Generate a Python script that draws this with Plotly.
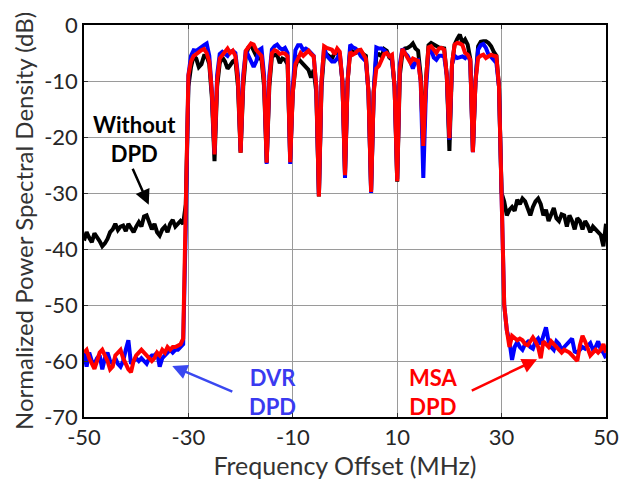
import numpy as np
import plotly.graph_objects as go

# Frequency grid (MHz), 0.5 MHz spacing
freq = np.arange(-50, 50.01, 0.5)

# ---- Without DPD (black) ----
black_left = [-38.5, -37.0, -38.0, -38.8, -37.2, -37.8, -38.6, -39.5, -39.0, -38.2,
              -37.0, -36.5, -35.5, -36.6, -36.0, -35.8, -36.8, -35.5, -36.4, -37.0,
              -36.0, -35.2, -36.0, -34.2, -34.0, -35.5, -36.5, -35.5, -37.0, -37.6,
              -36.5, -36.0, -37.0, -35.5, -34.8, -36.0, -35.5, -35.0, -35.5, -32.0]
black_band = [-11.0,
              -7.5, -5.5, -6.0, -7.5, -7.0, -5.5, -5.5, -7.0, -13.0, -24.3,
              -11.0, -6.8, -5.8, -6.5, -7.8, -7.2, -6.5, -6.2, -11.0, -22.8,
              -11.0, -5.5, -4.0, -3.6, -4.5, -5.5, -6.0, -6.0, -11.0, -24.6,
              -11.0, -5.6, -5.4, -5.3, -6.8, -6.0, -6.2, -7.0, -24.0,
              -12.0, -7.5, -6.0, -6.5, -7.0, -7.5, -8.0, -9.4, -8.0, -12.0, -30.6,
              -11.0, -5.0, -5.2, -5.5, -6.0, -5.0, -5.0, -5.5, -10.0, -26.5,
              -10.0, -4.5, -4.8, -5.0, -4.8, -4.6, -5.2, -5.5, -12.0, -29.5,
              -12.0, -5.5, -5.2, -5.6, -4.3, -4.6, -5.8, -6.2, -11.0, -28.0,
              -9.0, -5.0, -4.2, -4.1, -3.8, -3.3, -4.2, -4.6, -9.0, -22.0,
              -10.0, -3.6, -3.2, -3.5, -3.8, -4.0, -4.1, -4.2, -9.0, -22.5,
              -7.0, -3.5, -2.5, -1.7, -3.2, -2.6, -3.5, -6.0, -22.5,
              -10.0, -3.8, -3.0, -2.9, -2.9, -3.2, -3.8, -4.8, -5.5, -11.0,
              -30.0]
black_right = [-31.5, -34.0, -33.0, -32.5, -33.2, -31.2, -32.0, -31.0, -31.5, -32.8,
               -34.0, -32.5, -31.5, -31.0, -32.0, -34.0, -33.0, -35.0, -34.0, -32.7,
               -34.5, -35.0, -33.8, -34.0, -36.0, -34.0, -35.0, -36.5, -34.5, -35.0,
               -36.5, -35.0, -35.8, -37.0, -36.0, -36.5, -37.0, -37.5, -39.5, -35.5]

# ---- DVR DPD (blue) ----
blue_left = [-58.5, -61.0, -58.5, -60.0, -60.5, -59.5, -59.0, -61.5, -59.5, -58.5,
             -60.0, -60.5, -59.5, -60.5, -61.0, -60.0, -58.0, -56.3, -60.5, -60.0,
             -59.5, -60.0, -59.5, -60.0, -60.5, -59.5, -59.0, -59.0, -58.5, -61.0,
             -59.5, -59.0, -58.5, -58.0, -58.5, -58.0, -58.0, -57.5, -57.0, -36.0]
blue_band = [-9.0,
             -5.5, -4.5, -4.6, -4.2, -4.0, -3.6, -3.3, -5.5, -12.0, -23.0,
             -9.0, -5.2, -4.8, -5.2, -5.5, -4.8, -4.6, -5.0, -9.0, -22.5,
             -9.0, -4.5, -5.5, -6.5, -7.5, -6.5, -4.5, -4.2, -9.0, -24.8,
             -9.0, -4.4, -3.8, -3.5, -4.1, -4.4, -4.1, -5.0, -24.8,
             -11.0, -4.5, -3.6, -3.6, -4.5, -4.2, -4.5, -5.0, -5.5, -11.0, -30.5,
             -10.0, -4.0, -5.5, -6.0, -6.5, -6.5, -6.0, -5.0, -10.0, -27.3,
             -10.0, -3.5, -4.0, -4.2, -4.6, -5.5, -6.0, -6.5, -12.0, -30.0,
             -12.0, -4.0, -4.2, -4.2, -4.5, -5.0, -5.5, -6.0, -11.0, -27.5,
             -7.0, -4.2, -5.0, -5.5, -6.5, -7.8, -6.5, -6.3, -10.0, -27.3,
             -12.0, -4.8, -4.4, -5.8, -6.2, -5.5, -5.5, -5.6, -9.0, -20.5,
             -7.0, -5.5, -5.9, -5.7, -5.6, -5.9, -5.3, -6.5, -22.7,
             -10.0, -4.4, -3.6, -3.4, -4.1, -5.3, -5.7, -6.2, -6.8, -11.0,
             -32.0]
blue_right = [-50.0, -54.5, -56.5, -59.8, -57.5, -56.6, -57.5, -58.0, -57.0, -56.6,
              -57.5, -57.8, -56.5, -56.0, -57.0, -55.5, -54.0, -56.5, -57.5, -58.0,
              -56.5, -57.0, -58.0, -57.5, -57.0, -56.5, -56.0, -58.3, -58.5, -58.0,
              -57.5, -57.8, -57.2, -56.8, -58.0, -57.5, -56.5, -58.0, -58.5, -59.5]

# ---- MSA DPD (red) ----
red_left = [-58.5, -58.0, -59.5, -60.5, -61.4, -60.0, -58.5, -58.0, -59.0, -60.0,
            -61.5, -61.0, -59.0, -58.5, -58.0, -59.5, -60.5, -61.5, -62.0, -60.0,
            -59.0, -58.5, -58.0, -58.5, -59.0, -59.5, -60.0, -59.5, -58.5, -59.0,
            -58.0, -58.5, -57.5, -58.0, -57.5, -57.5, -57.2, -57.0, -56.0, -36.0]
red_band = [-9.0,
            -6.5, -5.5, -5.2, -4.8, -4.5, -4.3, -5.0, -6.5, -12.0, -23.1,
            -10.0, -6.0, -5.4, -4.6, -4.2, -5.0, -4.6, -5.5, -10.0, -22.8,
            -10.0, -4.6, -4.0, -3.3, -3.5, -4.5, -5.0, -5.5, -10.0, -24.6,
            -10.0, -5.0, -4.5, -4.7, -5.2, -5.0, -5.1, -5.6, -24.5,
            -12.0, -7.0, -5.8, -5.0, -5.5, -5.0, -4.6, -5.2, -5.6, -11.0, -30.6,
            -10.0, -3.8, -4.1, -4.2, -4.4, -5.2, -4.2, -4.8, -10.0, -26.8,
            -10.0, -4.8, -5.3, -5.0, -4.5, -4.4, -5.3, -6.0, -12.0, -29.8,
            -12.0, -7.8, -7.3, -6.4, -5.2, -5.0, -5.6, -5.3, -11.0, -27.9,
            -8.0, -4.3, -5.0, -5.8, -6.7, -6.0, -6.3, -6.4, -10.0, -21.6,
            -10.0, -4.0, -3.8, -4.4, -5.0, -4.2, -4.1, -4.4, -9.0, -20.2,
            -7.0, -3.5, -3.2, -3.3, -3.6, -5.0, -5.3, -6.2, -22.7,
            -10.0, -5.9, -5.5, -5.3, -5.9, -5.6, -5.3, -5.5, -5.6, -11.0,
            -32.0]
red_right = [-50.0, -54.5, -57.5, -55.5, -56.0, -56.3, -56.0, -56.3, -57.0, -57.2,
             -56.5, -55.8, -56.5, -57.5, -59.5, -56.5, -57.0, -57.5, -56.5, -57.0,
             -57.5, -58.0, -58.5, -58.0, -58.2, -58.5, -59.0, -59.5, -60.0, -57.2,
             -55.5, -56.5, -58.0, -59.0, -58.5, -58.0, -58.5, -58.0, -57.0, -58.5]

black_psd = black_left + black_band + black_right
blue_psd = blue_left + blue_band + blue_right
red_psd = red_left + red_band + red_right

x_tickvals = [-50, -30, -10, 10, 30, 50]
x_ticktext = ["-50", "-30", "-10", "10", "30", "50"]
y_tickvals = [0, -10, -20, -30, -40, -50, -60, -70]
y_ticktext = ["0", "-10", "-20", "-30", "-40", "-50", "-60", "-70"]

FONT = "Lato, 'Open Sans', sans-serif"

fig = go.Figure()
fig.add_trace(go.Scatter(x=freq, y=black_psd, mode="lines", name="Without DPD",
                         line=dict(color="#000000", width=4)))
fig.add_trace(go.Scatter(x=freq, y=blue_psd, mode="lines", name="DVR DPD",
                         line=dict(color="#0000FF", width=4)))
fig.add_trace(go.Scatter(x=freq, y=red_psd, mode="lines", name="MSA DPD",
                         line=dict(color="#FF0000", width=4)))

axis_common = dict(showline=True, linecolor="#000000", linewidth=1.5, mirror="allticks",
                   ticks="inside", ticklen=4, tickcolor="#333333", showgrid=True,
                   gridcolor="#9a9a9a", gridwidth=1, zeroline=False, automargin=False,
                   tickfont=dict(family=FONT, size=22, color="#262626"))

fig.update_xaxes(range=[-50, 50], tickvals=x_tickvals, ticktext=x_ticktext,
                 title=dict(text="Frequency Offset (MHz)", standoff=8,
                            font=dict(family=FONT, size=25, color="#333333")),
                 **axis_common)
fig.update_yaxes(range=[-70, 0], tickvals=y_tickvals, ticktext=y_ticktext,
                 title=dict(text="Normalized Power Spectral Density (dB)", standoff=4,
                            font=dict(family=FONT, size=24, color="#333333")),
                 **axis_common)

ann_font = dict(family=FONT, size=22)
fig.add_annotation(x=-40.3, y=-20.4, text="<b>Without<br>DPD</b>", showarrow=False,
                   font=dict(color="#000000", **ann_font), align="center")
fig.add_annotation(x=-13.8, y=-65.5, text="<b>DVR<br>DPD</b>", showarrow=False,
                   font=dict(color="#3A3AF0", **ann_font), align="center")
fig.add_annotation(x=16.9, y=-65.5, text="<b>MSA<br>DPD</b>", showarrow=False,
                   font=dict(color="#FF0000", **ann_font), align="center")

# arrows
fig.add_annotation(x=-37.6, y=-32.1, ax=-40.8, ay=-25.4, axref="x", ayref="y",
                   text="", showarrow=True, arrowhead=2, arrowsize=1.2, arrowwidth=2.5,
                   arrowcolor="#000000")
fig.add_annotation(x=-33.1, y=-60.9, ax=-21.3, ay=-65.6, axref="x", ayref="y",
                   text="", showarrow=True, arrowhead=2, arrowsize=1.2, arrowwidth=2.5,
                   arrowcolor="#3A48F0")
fig.add_annotation(x=36.8, y=-59.7, ax=24.0, ay=-65.4, axref="x", ayref="y",
                   text="", showarrow=True, arrowhead=2, arrowsize=1.2, arrowwidth=2.5,
                   arrowcolor="#FF0000")

fig.update_layout(width=630, height=487, showlegend=False,
                  margin=dict(l=84, r=24, t=25, b=70),
                  plot_bgcolor="#FFFFFF", paper_bgcolor="#FFFFFF")

# remove the default 8px body margin of the page so the figure fills the window
fig.write_html("out.html", config={"displayModeBar": False},
               post_script="document.body.style.margin='0px';")
